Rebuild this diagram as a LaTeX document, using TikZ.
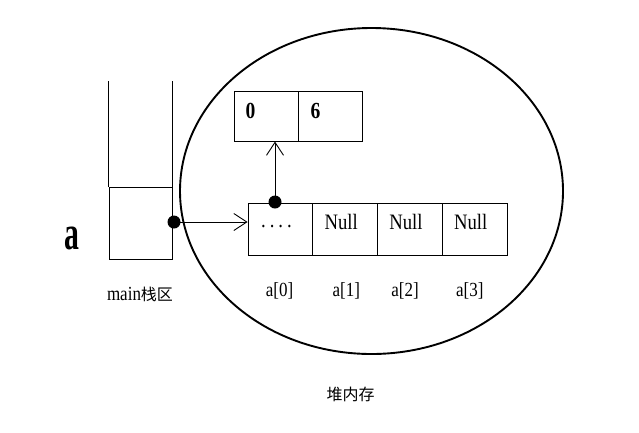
\documentclass[tikz,border=0pt]{standalone}
\usepackage{fontspec}
\setmainfont{Liberation Serif}
\newfontfamily\cjkfont{Noto Sans CJK SC}
\newfontfamily\narrowfont[FakeStretch=0.85]{Liberation Serif}
\newfontfamily\tallfont[FakeStretch=0.62]{Liberation Serif}
\usetikzlibrary{arrows.meta,shapes.geometric}
\begin{document}
\begin{tikzpicture}[
	x=1pt, y=-1pt,
	cell/.style={draw, line width=1pt, minimum width=64.75pt, minimum height=52pt, inner sep=0pt},
	hcell/.style={draw, line width=1pt, minimum width=64pt, minimum height=50pt, inner sep=0pt},
	dot/.style={circle, fill, minimum size=13pt, inner sep=0pt},
	edge/.style={-{Straight Barb[length=13pt, width=17pt]}, line width=0.9pt},
	celltext/.style={anchor=base, inner sep=0pt, font=\narrowfont\fontsize{22}{24}\selectfont},
	idx/.style={anchor=base, inner sep=0pt, font=\narrowfont\fontsize{20}{22}\selectfont},
	cjk/.style={inner sep=0pt, font=\cjkfont\fontsize{16}{19}\selectfont}
]
\useasboundingbox (0,0) rectangle (639,432);

% Heap
\node[draw, ellipse, line width=1.9pt, minimum width=383pt, minimum height=326pt] (heap) at (371.5,191) {};
\node[cjk] (heaplabel) at (350.5,394) {堆内存};

% Stack
\node[draw, line width=1pt, minimum width=63pt, minimum height=72pt, inner sep=0pt] (slot) at (140.5,223) {};
\draw[line width=1pt] (slot.north west) -- ++(0,-106);
\draw[line width=1pt] (slot.north east) -- ++(0,-106);
\node[anchor=base, inner sep=0pt, font=\tallfont\bfseries\fontsize{48}{50}\selectfont] (var) at (71.5,249) {a};
\node[anchor=base, inner sep=0pt] (stacklabel) at (140,300) {{\narrowfont\fontsize{20}{22}\selectfont main}{\cjkfont\fontsize{16}{19}\selectfont 栈区}};

% Array object
\node[cell] (n0) at (280.5,229) {};
\node[cell] (n1) at (345.25,229) {};
\node[cell] (n2) at (410,229) {};
\node[cell] (n3) at (474.75,229) {};
\node[celltext] at ([xshift=-4pt, yshift=2pt]n0.center) {.\hspace{4pt}.\hspace{4pt}.\hspace{4pt}.};
\node[celltext] at ([xshift=-4pt]n1.center) {Null};
\node[celltext] at ([xshift=-4pt]n2.center) {Null};
\node[celltext] at ([xshift=-4pt]n3.center) {Null};
\node[idx] at ([xshift=-1pt, yshift=-67pt]n0.center) {a[0]};
\node[idx] at ([xshift=1pt, yshift=-67pt]n1.center) {a[1]};
\node[idx] at ([xshift=-5pt, yshift=-67pt]n2.center) {a[2]};
\node[idx] at ([xshift=-5pt, yshift=-67pt]n3.center) {a[3]};

% Inner array
\node[hcell] (h0) at (266,116) {};
\node[hcell] (h1) at (330,116) {};
\node[celltext, anchor=base west, font=\narrowfont\bfseries\fontsize{23}{26}\selectfont] at ([xshift=12pt, yshift=-2pt]h0.west) {0};
\node[celltext, anchor=base west, font=\narrowfont\bfseries\fontsize{23}{26}\selectfont] at ([xshift=13pt, yshift=-2pt]h1.west) {6};

% References
\node[dot] (refa) at (174,222) {};
\node[dot] (ref0) at (275,202) {};
\draw[edge] (refa.center) -- (refa -| n0.west);
\draw[edge] (ref0.center) -- (ref0 |- h0.south);

\end{tikzpicture}
\end{document}
